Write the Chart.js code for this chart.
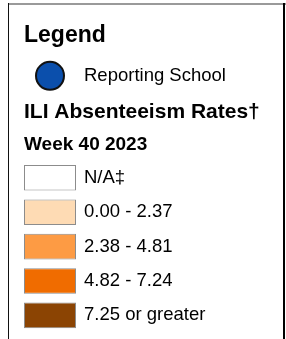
<!DOCTYPE html>
<html>
<head>
<meta charset="utf-8">
<script src="https://cdn.jsdelivr.net/npm/chart.js@4"></script>
<style>
  html, body { margin: 0; padding: 0; background: #fff; }
  body { width: 286px; height: 339px; position: relative; overflow: hidden; }
  .topline { position: absolute; left: 8px; top: 3px; width: 278px; height: 0; border-top: 2px solid #9a9a9a; }
  .frame { position: absolute; left: 8px; top: 3px; width: 274px; height: 336px; border-left: 1px solid #111; border-right: 2px solid #000; }
  canvas { position: absolute; left: 0; }
</style>
</head>
<body>
<div class="topline"></div>
<div class="frame"></div>
<canvas id="pointChart" width="286" height="104" style="top:0"></canvas>
<canvas id="rateChart" width="286" height="243" style="top:96px"></canvas>
<script>
const legendTitle = 'Legend';
const pointLabels = ['Reporting School'];
const rateTitle = 'ILI Absenteeism Rates†';
const weekLabel = 'Week 40 2023';
const rateLabels = ['N/A‡', '0.00 - 2.37', '2.38 - 4.81', '4.82 - 7.24', '7.25 or greater'];
const rateValues = [1, 1, 1, 1, 1];
const rateColors = ['#ffffff', '#fedbb4', '#fd9b44', '#f06c00', '#8b4403'];

Chart.defaults.font.family = '"Liberation Sans", Arial, sans-serif';
Chart.defaults.color = '#000';

const labelAxis = {
  position: 'right',
  offset: true,
  grid: { display: false, drawTicks: false },
  border: { display: false },
  ticks: { padding: 8, color: '#000', font: { size: 18.5 } },
  afterFit: (scale) => {
    // fixed label column, no extra room for the end labels
    scale.width = 210;
    scale.paddingTop = 0;
    scale.paddingBottom = 0;
  }
};

// reporting school marker
new Chart(document.getElementById('pointChart'), {
  type: 'scatter',
  data: {
    datasets: [{
      data: pointLabels.map(l => ({ x: 0.5, y: l })),
      pointRadius: 14,
      backgroundColor: '#0b4fac',
      borderColor: '#111',
      borderWidth: 2,
      clip: false
    }]
  },
  options: {
    responsive: false,
    animation: false,
    events: [],
    layout: { padding: { left: 24, right: 0, top: 0, bottom: 2 }, autoPadding: false },
    plugins: {
      legend: { display: false },
      tooltip: { enabled: false },
      title: {
        display: true, text: legendTitle, align: 'start', color: '#000',
        font: { size: 23, weight: 'bold' }, padding: { top: 22, bottom: 0 }
      }
    },
    scales: {
      x: { type: 'linear', min: 0, max: 1, display: false },
      y: Object.assign({ type: 'category', labels: pointLabels }, labelAxis)
    }
  }
});

// rate classes
new Chart(document.getElementById('rateChart'), {
  type: 'bar',
  data: {
    labels: rateLabels,
    datasets: [{
      data: rateValues,
      backgroundColor: rateColors,
      borderColor: '#8c8c8c',
      borderWidth: 1,
      borderSkipped: false,
      categoryPercentage: 1,
      barPercentage: 0.744
    }]
  },
  options: {
    indexAxis: 'y',
    responsive: false,
    animation: false,
    events: [],
    layout: { padding: { left: 24, right: 0, top: 0, bottom: 6.4 }, autoPadding: false },
    plugins: {
      legend: { display: false },
      tooltip: { enabled: false },
      title: {
        display: true, text: rateTitle, align: 'start', color: '#000',
        font: { size: 21, weight: 'bold' }, padding: { top: 3.9, bottom: 4 }
      },
      subtitle: {
        display: true, text: weekLabel, align: 'start', color: '#000',
        font: { size: 19, weight: 'bold' }, padding: { top: 4.5, bottom: 4.2 }
      }
    },
    scales: {
      x: { min: 0, max: 1, display: false },
      y: labelAxis
    }
  }
});
</script>
</body>
</html>
